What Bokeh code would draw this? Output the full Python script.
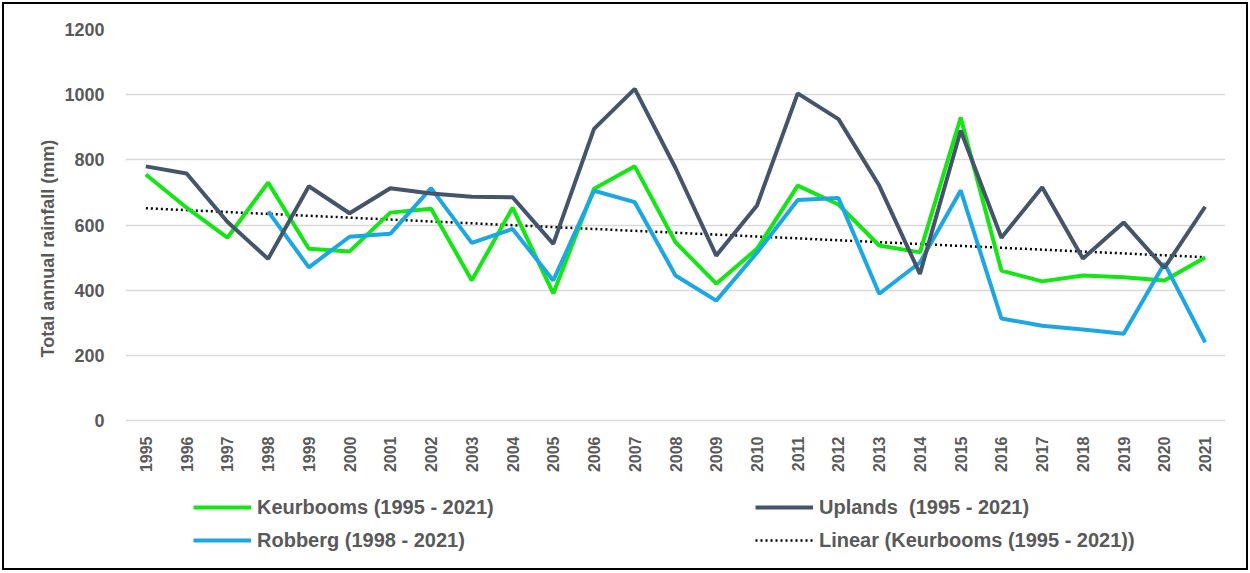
import math
import numpy as np
from bokeh.plotting import figure
from bokeh.models import Legend, LegendItem, FixedTicker, Range1d, Title
from bokeh.embed import file_html
from bokeh.resources import INLINE

years = list(range(1995, 2022))
keurbooms = [755, 653, 561, 730, 527, 519, 638, 650, 430, 653, 390, 711, 780, 547, 420,
             527, 721, 663, 537, 516, 930, 460, 427, 445, 440, 430, 500]
uplands = [780, 758, 610, 496, 719, 636, 713, 697, 687, 685, 542, 895, 1018, 775, 506,
           660, 1004, 925, 721, 450, 890, 561, 716, 497, 608, 468, 656]
robberg_years = list(range(1998, 2022))
robberg = [642, 470, 564, 573, 713, 545, 588, 430, 705, 670, 445, 368, 515, 677, 683,
           389, 485, 706, 313, 291, 279, 266, 482, 240]
y_ticks = [0, 200, 400, 600, 800, 1000, 1200]
x_labels = [str(y) for y in years]

GREEN = "#14e614"
DARK = "#44546a"
BLUE = "#1aa7e4"
GREY = "#595959"
FONT = "Liberation Sans"

# frame spans the plot and the legend area below it; y=0 sits 140px above the frame bottom
Y_TOP = 1200
Y_BOTTOM = Y_TOP - 531 * Y_TOP / 391

p = figure(width=1242, height=564, output_backend="svg", toolbar_location=None,
           x_range=Range1d(1994.5, 2021.5), y_range=Range1d(Y_BOTTOM, Y_TOP),
           min_border_left=121, min_border_right=21, min_border_top=25, min_border_bottom=8)
p.styles = {"margin": "4px", "outline": "2px solid #000"}
p.outline_line_color = None
p.background_fill_color = "white"
p.border_fill_color = "white"

p.xgrid.visible = False
p.ygrid.grid_line_color = "#d9d9d9"
p.ygrid.grid_line_width = 1.5

p.yaxis.ticker = FixedTicker(ticks=y_ticks)
p.xaxis.ticker = FixedTicker(ticks=years)
p.xaxis.fixed_location = 0
p.xaxis.major_label_overrides = {y: s for y, s in zip(years, x_labels)}
p.xaxis.major_label_orientation = math.pi / 2
for ax in (p.xaxis, p.yaxis):
    ax.axis_line_color = None
    ax.major_tick_line_color = None
    ax.minor_tick_line_color = None
    ax.major_label_text_color = GREY
    ax.major_label_text_font = FONT
    ax.major_label_text_font_style = "bold"
p.yaxis.major_label_text_font_size = "18px"
p.yaxis.major_label_standoff = 15
p.xaxis.major_label_text_font_size = "16px"
p.xaxis.major_label_standoff = 10

ytitle = Title(text="Total annual rainfall (mm)", align="left", offset=203,
               text_font=FONT, text_font_style="bold", text_font_size="18px",
               text_color=GREY, standoff=8)
p.add_layout(ytitle, "left")

# linear trend of Keurbooms
coef = np.polyfit(years, keurbooms, 1)
trend = [coef[0] * years[0] + coef[1], coef[0] * years[-1] + coef[1]]

rk = p.line(years, keurbooms, line_color=GREEN, line_width=4)
ru = p.line(years, uplands, line_color=DARK, line_width=4)
rr = p.line(robberg_years, robberg, line_color=BLUE, line_width=4)
rt = p.line([years[0], years[-1]], trend, line_color="black", line_width=2.5, line_dash="2 3")
p.renderers = [rt, rk, rr, ru]


def make_legend(items, loc):
    return Legend(items=items, location=loc, padding=0, margin=0, spacing=9,
                  border_line_color=None, background_fill_alpha=0,
                  label_text_font=FONT, label_text_font_style="bold",
                  label_text_font_size="20px", label_text_color=GREY,
                  glyph_width=58, glyph_height=24, label_height=24, label_standoff=6)


leg1 = make_legend([LegendItem(label="Keurbooms (1995 - 2021)", renderers=[rk]),
                    LegendItem(label="Robberg (1998 - 2021)", renderers=[rr])], (68, 8))
leg2 = make_legend([LegendItem(label="Uplands  (1995 - 2021)", renderers=[ru]),
                    LegendItem(label="Linear (Keurbooms (1995 - 2021))", renderers=[rt])], (630, 8))
p.add_layout(leg1)
p.add_layout(leg2)

open("out.html", "w").write(file_html(p, INLINE))
